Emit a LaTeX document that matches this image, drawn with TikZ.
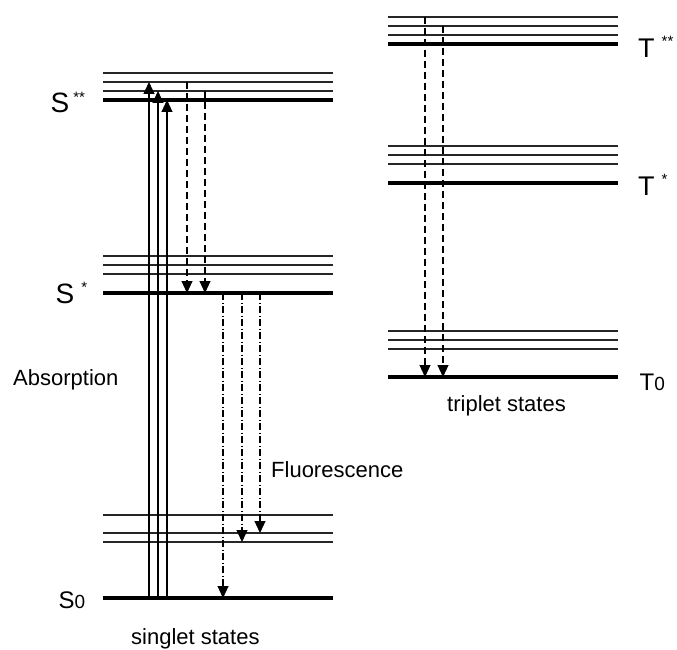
\documentclass[tikz,border=0pt]{standalone}
\usepackage{fontspec}
\setmainfont{Liberation Sans}
\usetikzlibrary{arrows.meta}
\begin{document}
\begin{tikzpicture}[x=1pt,y=-1pt,
  level/.style={line width=1.1pt, draw=black!85},
  mainlevel/.style={line width=4pt, draw=black},
  trans/.style={line width=1.1pt, draw=black, -{Triangle[length=12pt,width=11pt]}},
  nonrad/.style={trans, dash pattern=on 7pt off 4pt},
  fluor/.style={trans, dash pattern=on 7pt off 2.5pt on 1pt off 2.5pt},
  lbl/.style={inner sep=0pt, anchor=base west, font=\fontsize{22}{26}\selectfont}]
\useasboundingbox (0,0) rectangle (677,650);

% left ends of the singlet level lines
\foreach \n/\y in {Sss3/73, Sss2/82, Sss1/91, Sss/100,
                   Ss3/256, Ss2/265, Ss1/274, Ss/293,
                   S03/515, S02/533, S01/542, S0/598}
  \coordinate (\n) at (103,\y);
% left ends of the triplet level lines
\foreach \n/\y in {Tss3/17, Tss2/26, Tss1/35, Tss/44,
                   Ts3/146, Ts2/155, Ts1/164, Ts/183,
                   T03/331, T02/340, T01/349, T0/377}
  \coordinate (\n) at (388,\y);

% vibrational sublevels
\foreach \n in {Sss3,Sss2,Sss1,Ss3,Ss2,Ss1,S03,S02,S01,
                Tss3,Tss2,Tss1,Ts3,Ts2,Ts1,T03,T02,T01}
  \draw[level] (\n) -- ++(230,0);
% electronic levels
\foreach \n in {Sss,Ss,S0,Tss,Ts,T0}
  \draw[mainlevel] (\n) -- ++(230,0);

% columns of the transitions
\coordinate (ab1) at (149,0);
\coordinate (ab2) at (158,0);
\coordinate (ab3) at (167,0);
\coordinate (ic1) at (187,0);
\coordinate (ic2) at (205,0);
\coordinate (fl1) at (223,0);
\coordinate (fl2) at (242,0);
\coordinate (fl3) at (260,0);
\coordinate (tr1) at (425,0);
\coordinate (tr2) at (443,0);

% absorption
\draw[trans] (ab1 |- S0) -- (ab1 |- Sss2);
\draw[trans] (ab2 |- S0) -- (ab2 |- Sss1);
\draw[trans] (ab3 |- S0) -- (ab3 |- Sss);
% relaxation S** -> S*
\draw[nonrad] (ic1 |- Sss2) -- (ic1 |- Ss);
\draw[nonrad] (ic2 |- Sss1) -- (ic2 |- Ss);
% fluorescence
\draw[fluor] (fl1 |- Ss) -- (fl1 |- S0);
\draw[fluor] (fl2 |- Ss) -- (fl2 |- S01);
\draw[fluor] (fl3 |- Ss) -- (fl3 |- S02);
% triplet relaxation
\draw[nonrad] (tr1 |- Tss3) -- (tr1 |- T0);
\draw[nonrad] (tr2 |- Tss2) -- (tr2 |- T0);

% level labels
\node[lbl, font=\fontsize{28}{28}\selectfont] (lSss) at (50.5,112.7)
  {S\hspace{4pt}\raisebox{10.5pt}{\fontsize{15}{15}\selectfont **}};
\node[lbl, font=\fontsize{28}{28}\selectfont] (lSs) at (55.5,303.3)
  {S\hspace{7pt}\raisebox{10.5pt}{\fontsize{15}{15}\selectfont *}};
\node[lbl, font=\fontsize{24}{24}\selectfont] (lS0) at (58.5,608)
  {S{\fontsize{19}{19}\selectfont 0}};
\node[lbl, font=\fontsize{27}{27}\selectfont] (lTss) at (638,57.3)
  {T\hspace{7pt}\raisebox{10.6pt}{\fontsize{15}{15}\selectfont **}};
\node[lbl, font=\fontsize{27}{27}\selectfont] (lTs) at (638,195.7)
  {T\hspace{7pt}\raisebox{10.8pt}{\fontsize{15}{15}\selectfont *}};
\node[lbl, font=\fontsize{24}{24}\selectfont] (lT0) at (639.5,390)
  {T{\fontsize{19}{19}\selectfont 0}};

% process and group labels
\node[lbl] (absorb) at (13,385) {Absorption};
\node[lbl] (fluo) at (271,477) {Fluorescence};
\node[lbl] (singlet) at (131,644) {singlet states};
\node[lbl] (triplet) at (447,411) {triplet states};
\end{tikzpicture}
\end{document}
